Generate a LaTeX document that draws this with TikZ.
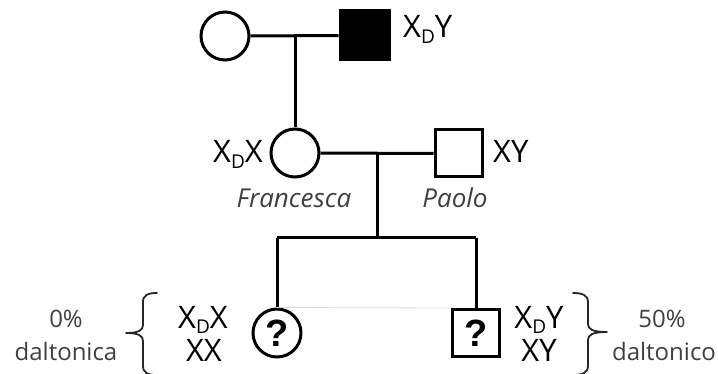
\documentclass[tikz,border=0pt]{standalone}
\usepackage{fontspec}
\setmainfont{Open Sans}
\newfontfamily\qfont{Liberation Sans}
\definecolor{notegray}{HTML}{404040}
\definecolor{faintline}{HTML}{DCDCDC}
% lowered subscript used in the genotype labels
\newcommand\gsub[1]{\raisebox{-5.5pt}{\fontsize{19}{19}\selectfont #1}}
\begin{document}
\begin{tikzpicture}[x=1pt,y=-1pt,
  female/.style={circle,draw,line width=3pt,minimum size=48pt,inner sep=0pt},
  male/.style={rectangle,draw,line width=3pt,minimum size=47pt,inner sep=0pt},
  unknown/.style={font=\qfont\bfseries\fontsize{38}{38}\selectfont},
  link/.style={line width=3pt},
  geno/.style={inner sep=0pt,font=\fontsize{31}{33}\selectfont},
  note/.style={inner sep=0pt,text=notegray,font=\fontsize{24}{26}\selectfont},
  person/.style={inner sep=0pt,text=notegray,font=\itshape\fontsize{26}{28}\selectfont},
  bracepath/.style={line width=1.8pt,black!85,line cap=round,line join=round}]
\useasboundingbox (0,0) rectangle (718,374);
\clip (0,0) rectangle (718,374);

% grandparents
\node[female] (gm) at (225,36) {};
\node[male,fill=black,minimum size=49pt] (gf) at (364.5,35.5) {};
\node[geno,anchor=base west] (gfg) at (403,38) {X\gsub{D}Y};

% parents
\node[female] (fr) at (295,153) {};
\node[male] (pa) at (458.5,153.5) {};
\node[geno,anchor=base east] (frg) at (263,163) {X\gsub{D}X};
\node[geno,anchor=base west] (pag) at (493,163) {XY};
\node[person,anchor=base] (frn) at (294,208) {Francesca};
\node[person,anchor=base] (pan) at (455,208) {Paolo};

% children
\node[female] (c1) at (277,333) {};
\node[unknown] at (c1) {?};
\node[male] (c2) at (476,333) {};
\node[unknown] at (c2) {?};

% connectors
\draw[link] (gm.east) -- (gf.west);
\draw[link] (fr |- gm.east) -- (fr.north);
\draw[link] (fr.east) -- (pa.west);
\coordinate (m2) at (377,153);
\coordinate (sib) at (377,238);
\draw[link] (m2) -- (sib);
\draw[link] (c1 |- sib) -- (c2 |- sib);
\draw[link] (c1 |- sib) -- (c1.north);
\draw[link] (c2 |- sib) -- (c2.north);
\draw[faintline,line width=0.8pt] (c1.north) -- (c2.north west);

% genotypes of the children
\node[geno,anchor=base] (g1a) at (203,328) {X\gsub{D}X};
\node[geno,anchor=base] (g1b) at (204,361) {XX};
\node[geno,anchor=base] (g2a) at (539,328) {X\gsub{D}Y};
\node[geno,anchor=base] (g2b) at (539,361) {XY};

% braces
\draw[bracepath] (157,293) .. controls (148,293) and (143,295) .. (143,302)
  -- (143,325) .. controls (143,330) and (139,333) .. (126,333)
  .. controls (139,333) and (143,336) .. (143,341)
  -- (143,366) .. controls (143,373) and (148,375) .. (157,375);
\draw[bracepath] (573,293) .. controls (582,293) and (588,295) .. (588,302)
  -- (588,324) .. controls (588,329) and (592,332) .. (607,332)
  .. controls (592,332) and (588,335) .. (588,340)
  -- (588,366) .. controls (588,373) and (582,375) .. (573,375);

% probabilities
\node[note,anchor=base] (p1) at (66,327) {0\%};
\node[note,anchor=base] (d1) at (66,360) {daltonica};
\node[note,anchor=base] (p2) at (662,327) {50\%};
\node[note,anchor=base] (d2) at (664,360) {daltonico};
\end{tikzpicture}
\end{document}
